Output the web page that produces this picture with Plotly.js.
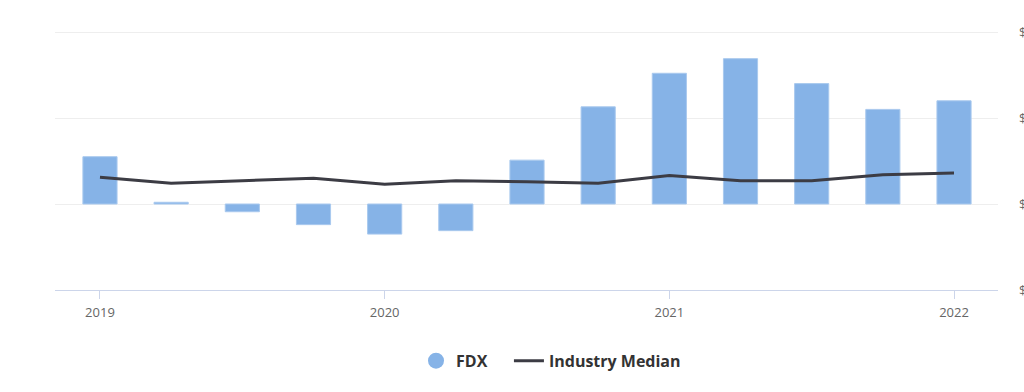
<!DOCTYPE html>
<html>
<head>
<meta charset="utf-8">
<script src="https://cdn.plot.ly/plotly-3.0.1.min.js"></script>
<style>html,body{margin:0;padding:0;background:#fff;}#chart{width:1024px;height:392px;}</style>
</head>
<body>
<div id="chart"></div>
<script>
const quarters = [2019, 2019.25, 2019.5, 2019.75, 2020, 2020.25, 2020.5, 2020.75, 2021, 2021.25, 2021.5, 2021.75, 2022];
const fdxValues = [0.55, 0.02, -0.09, -0.24, -0.35, -0.31, 0.51, 1.13, 1.52, 1.69, 1.40, 1.10, 1.20];
const medianValues = [0.31, 0.24, 0.27, 0.30, 0.23, 0.27, 0.26, 0.24, 0.33, 0.27, 0.27, 0.34, 0.36];
const xTickVals = [2019, 2020, 2021, 2022];
const xTickText = ['2019', '2020', '2021', '2022'];
const yTickVals = [-1, 0, 1, 2];
const yTickText = ['$-1b', '$0', '$1b', '$2b'];

const traces = [
  {type: 'bar', x: quarters, y: fdxValues, name: 'FDX', showlegend: false,
   marker: {color: '#86b3e7', line: {color: '#a9c9ee', width: 1}}, width: 0.12, hoverinfo: 'x+y'},
  {type: 'scatter', mode: 'markers', x: [null], y: [null], name: 'FDX\u00a0\u00a0\u00a0\u00a0',
   marker: {color: '#86b3e7', size: 18, symbol: 'circle'}},
  {type: 'scatter', mode: 'lines', x: quarters, y: medianValues, name: 'Industry Median',
   line: {color: '#3c3c44', width: 3}}
];

const layout = {
  width: 1024, height: 392,
  margin: {l: 55, r: 26, t: 28, b: 102},
  paper_bgcolor: '#ffffff', plot_bgcolor: '#ffffff',
  font: {family: 'Open Sans, sans-serif', color: '#666'},
  showlegend: true,
  legend: {orientation: 'h', x: 0.526, xanchor: 'center', y: -0.27, yanchor: 'middle',
    font: {size: 16, color: '#333', weight: 700}, itemwidth: 30, traceorder: 'normal'},
  xaxis: {range: [2018.842, 2022.1545], tickmode: 'array', tickvals: xTickVals, ticktext: xTickText,
    showgrid: false, zeroline: false, showline: true, linecolor: '#ccd5ea', linewidth: 1,
    ticks: 'outside', ticklen: 8, tickcolor: '#ccd5ea', ticklabelstandoff: 2,
    tickfont: {size: 13, color: '#666'}, fixedrange: true},
  yaxis: {range: [-1, 2.0465], side: 'right', tickmode: 'array', tickvals: yTickVals, ticktext: yTickText,
    showgrid: true, gridcolor: '#eeeeee', gridwidth: 1, zeroline: false, showline: false,
    ticklabelstandoff: 20, tickfont: {size: 13, color: '#666'}, fixedrange: true}
};

Plotly.newPlot('chart', traces, layout, {displayModeBar: false, staticPlot: true});
</script>
</body>
</html>
